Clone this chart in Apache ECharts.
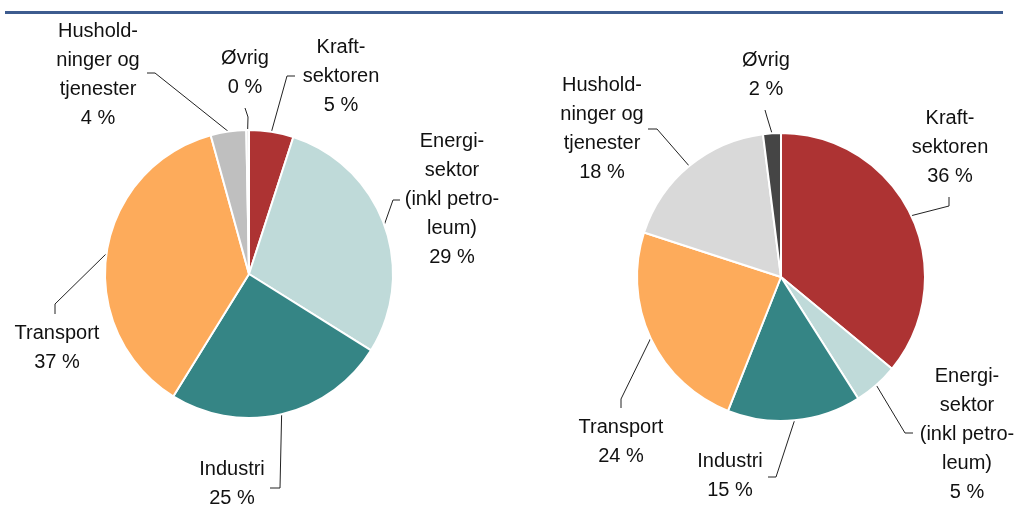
<!DOCTYPE html>
<html>
<head>
<meta charset="utf-8">
<script src="https://cdn.jsdelivr.net/npm/echarts@6/dist/echarts.min.js"></script>
<style>
  html, body { margin: 0; padding: 0; background: #fff; }
  #chart { width: 1018px; height: 509px; }
</style>
</head>
<body>
<div id="chart"></div>
<script>
// sektorer, med klokka fra kl 12
const categories = [
  'Kraft-\nsektoren',
  'Energi-\nsektor\n(inkl petro-\nleum)',
  'Industri',
  'Transport',
  'Hushold-\nninger og\ntjenester',
  'Øvrig'
]
const leftValues = [5, 29, 25, 37, 4, 0.3]
const rightValues = [36, 5, 15, 24, 18, 2]

const leftColors = ['#ad3333', '#bfdad9', '#358585', '#fdab5b', '#bfbfbf', '#e6e6e6']
const rightColors = ['#ad3333', '#bfdad9', '#358585', '#fdab5b', '#d9d9d9', '#454545']

// etikettplassering: [midt x, midt y, knekk x, knekk y, slutt x, slutt y]
const labelSpots = [
  [
    [341, 76, 287, 76, 295, 76],
    [452, 199, 393, 200, 400, 200],
    [232, 484, 280, 488, 270, 488],
    [57, 348, 55, 304, 55, 314],
    [98, 75, 155, 73, 147, 73],
    [245, 73, 248, 117, 245, 108]
  ],
  [
    [950, 147, 949, 206, 949, 197],
    [967, 434, 905, 433, 913, 433],
    [730, 476, 776, 477, 768, 477],
    [621, 442, 621, 399, 621, 408],
    [602, 129, 657, 129, 648, 129],
    [766, 75, 767, 117, 765, 110]
  ]
]

let myChart = echarts.init(document.getElementById('chart'))

function makeSeries(idx, values, colors, center) {
  return {
    type: 'pie',
    center: center,
    radius: 144,
    startAngle: 90,
    clockwise: true,
    avoidLabelOverlap: false,
    animation: false,
    emphasis: { disabled: true },
    itemStyle: {
      borderColor: '#ffffff',
      borderWidth: 2
    },
    label: {
      show: true,
      color: '#111',
      fontFamily: 'Liberation Sans, Arial, sans-serif',
      fontSize: 20,
      lineHeight: 29,
      align: 'center',
      formatter: (p) => p.name + '\n' + Math.round(p.value) + ' %'
    },
    labelLine: {
      show: true,
      length: 10,
      length2: 10,
      lineStyle: { color: '#222', width: 1 }
    },
    // etiketter og streker legges der de står i originalen
    labelLayout: function (params) {
      const spot = labelSpots[idx][params.dataIndex]
      const start = params.labelLinePoints ? params.labelLinePoints[0] : [spot[2], spot[3]]
      return {
        x: spot[0],
        y: spot[1],
        align: 'center',
        verticalAlign: 'middle',
        labelLinePoints: [start, [spot[2], spot[3]], [spot[4], spot[5]]]
      }
    },
    data: categories.map((name, i) => ({
      name: name,
      value: values[i],
      itemStyle: { color: colors[i] }
    }))
  }
}

let option = {
  backgroundColor: '#ffffff',
  graphic: [
    {
      type: 'rect',
      shape: { x: 5, y: 11, width: 998, height: 3 },
      style: { fill: '#3d5c8f' }
    }
  ],
  series: [
    makeSeries(0, leftValues, leftColors, [249, 274]),
    makeSeries(1, rightValues, rightColors, [781, 277])
  ]
}
myChart.setOption(option)
</script>
</body>
</html>
